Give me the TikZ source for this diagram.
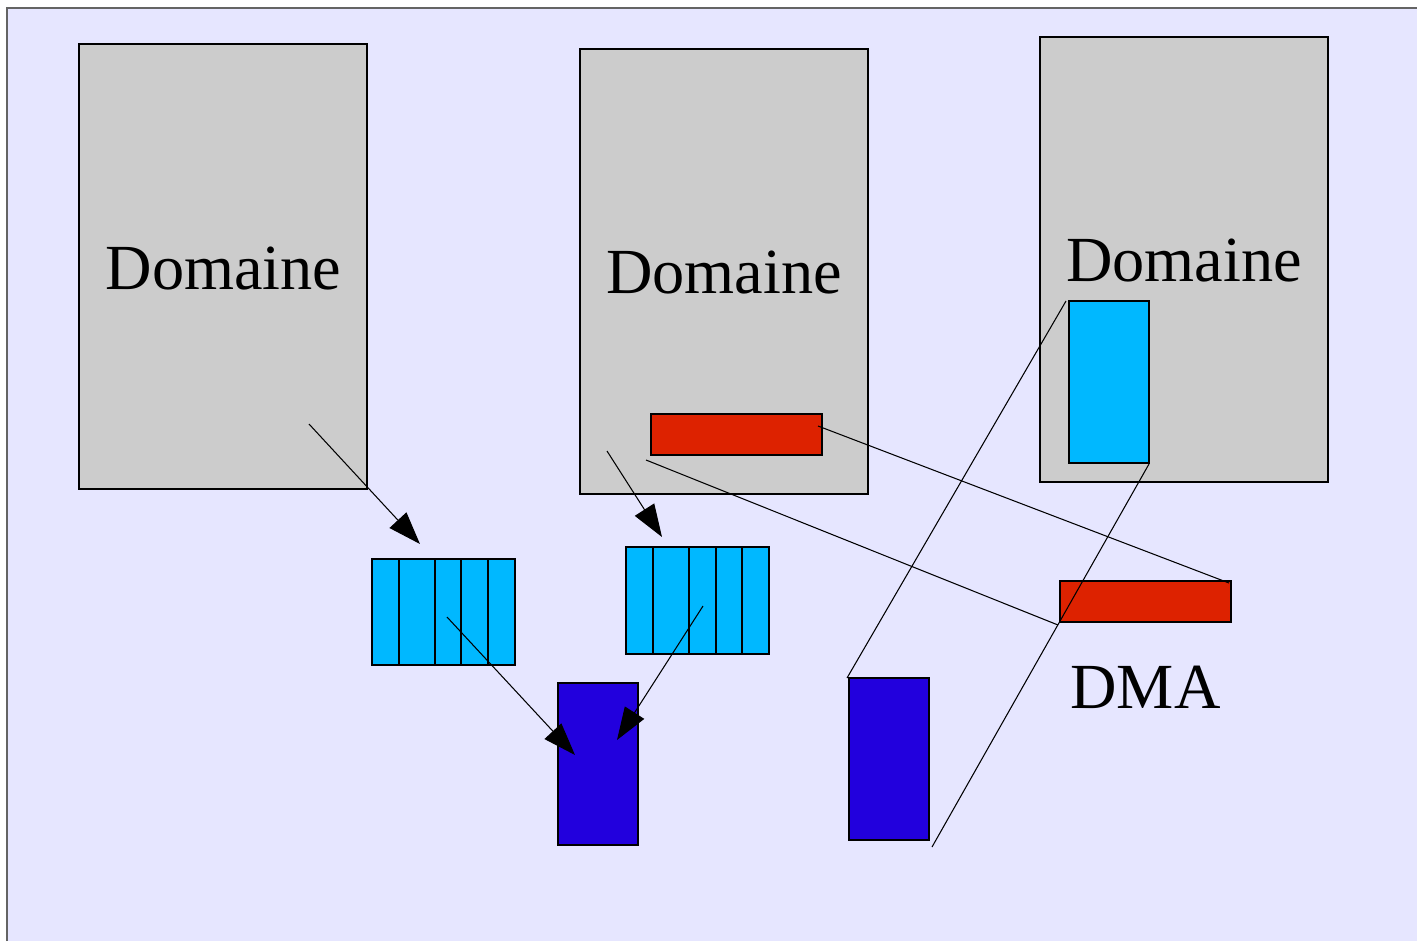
\documentclass[tikz,border=0pt]{standalone}
\usepackage{fontspec}
\setmainfont{Liberation Serif}
\usetikzlibrary{arrows.meta}
\definecolor{bgl}{RGB}{230,230,255}
\definecolor{domgray}{RGB}{204,204,204}
\definecolor{cyanb}{RGB}{0,184,255}
\definecolor{darkb}{RGB}{34,0,221}
\definecolor{redb}{RGB}{221,34,0}
\definecolor{framec}{RGB}{100,100,100}
\newcommand\pxu{0.02cm}
\tikzset{
  boxbase/.style={draw=black, line width=0.6pt, inner sep=0pt, outer sep=0pt},
  domainbox/.style={boxbase, fill=domgray},
  redbox/.style={boxbase, fill=redb},
  cyanbox/.style={boxbase, fill=cyanb},
  bluebox/.style={boxbase, fill=darkb},
  bigtext/.style={font=\fontsize{36.6}{40}\selectfont, anchor=base, inner sep=0pt},
  linkline/.style={line width=0.6pt, draw=black},
  arrline/.style={linkline, -{Triangle[length=18.5pt,width=13pt]}}
}
% \rbox{name}{x1}{y1}{x2}{y2}{style}
\newcommand\rbox[6]{%
  \node[#6, minimum width={(#4-#2)*\pxu}, minimum height={(#5-#3)*\pxu}]
    (#1) at ({(#2+#4)/2},{(#3+#5)/2}) {};}
\begin{document}
\begin{tikzpicture}[x=0.02cm, y=-0.02cm]
\useasboundingbox (0,0) rectangle (1417,941);
% background
\fill[bgl] (7,8) rectangle (1417,941);
\draw[framec, line width=1.2pt] (7,941) -- (7,8) -- (1417,8);
% domains
\rbox{d1}{79}{44}{367}{489}{domainbox}
\rbox{d2}{580}{49}{868}{494}{domainbox}
\rbox{d3}{1040}{37}{1328}{482}{domainbox}
\node[bigtext] (t1) at (223.5,289) {Domaine};
\node[bigtext] (t2) at (724,293) {Domaine};
\node[bigtext] (t3) at (1184,281) {Domaine};
\node[bigtext] (tdma) at (1145.5,708) {DMA};
% red buffers
\rbox{r1}{651}{414}{822}{455}{redbox}
\rbox{r2}{1060}{581}{1231}{622}{redbox}
% cyan
\rbox{c3}{1069}{301}{1149}{463}{cyanbox}
\rbox{q1}{372}{559}{515}{665}{cyanbox}
\rbox{q2}{626}{547}{769}{654}{cyanbox}
\foreach \x in {399,435,461,488}{\draw[linkline] (\x,559) -- (\x,665);}
\foreach \x in {653,689,716,742}{\draw[linkline] (\x,547) -- (\x,654);}
% dark blue
\rbox{b1}{558}{683}{638}{845}{bluebox}
\rbox{b2}{849}{678}{929}{840}{bluebox}
% coordinates for connector ends
\coordinate (a1s) at (309,424);
\coordinate (a1e) at (420,544);
\coordinate (a2s) at (607,451);
\coordinate (a2e) at (662,537);
\coordinate (a3s) at (447,617);
\coordinate (a3e) at (575,755);
\coordinate (a4s) at (703,606);
\coordinate (a4e) at (617,740);
\coordinate (l1s) at (818,426);
\coordinate (l1e) at (1229,583);
\coordinate (l2s) at (646,460);
\coordinate (l2e) at (1058,625);
\coordinate (l3s) at (1066,301);
\coordinate (l3e) at (847,678);
\coordinate (l4s) at (1149,464);
\coordinate (l4e) at (932,847);
% arrows
\draw[arrline] (a1s) -- (a1e);
\draw[arrline] (a2s) -- (a2e);
\draw[arrline] (a3s) -- (a3e);
\draw[arrline] (a4s) -- (a4e);
% plain lines
\draw[linkline] (l1s) -- (l1e);
\draw[linkline] (l2s) -- (l2e);
\draw[linkline] (l3s) -- (l3e);
\draw[linkline] (l4s) -- (l4e);
\end{tikzpicture}
\end{document}
